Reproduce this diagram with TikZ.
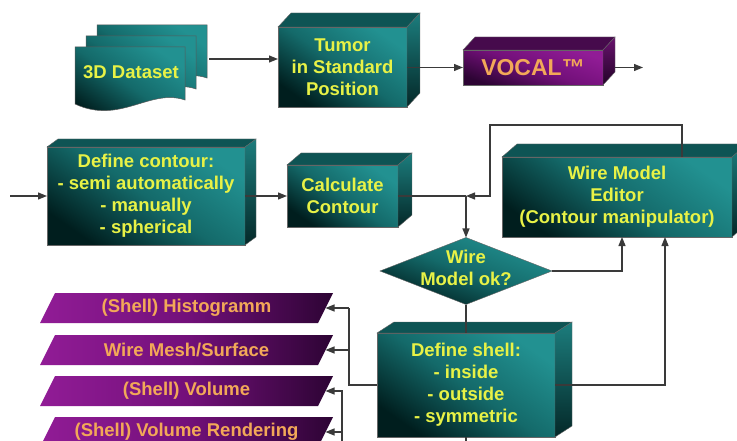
\documentclass[tikz,border=0pt]{standalone}
\usepackage{fontspec}
\setmainfont{Liberation Sans}
\usetikzlibrary{arrows.meta,shapes.geometric}
\definecolor{tealF}{RGB}{34,145,145}
\definecolor{tealM}{RGB}{20,106,106}
\definecolor{tealD}{RGB}{0,30,30}
\definecolor{tealT}{RGB}{14,84,84}
\definecolor{tealS1}{RGB}{28,125,125}
\definecolor{tealS2}{RGB}{4,40,40}
\definecolor{ytext}{RGB}{232,242,70}
\definecolor{purF}{RGB}{145,28,150}
\definecolor{purM}{RGB}{115,16,122}
\definecolor{purD}{RGB}{45,4,52}
\definecolor{purT}{RGB}{70,10,76}
\definecolor{purS1}{RGB}{105,18,110}
\definecolor{purS2}{RGB}{35,3,40}
\definecolor{otext}{RGB}{242,168,88}
\definecolor{lineC}{RGB}{58,58,58}
\newcommand\boxfont{\bfseries\fontsize{18.5}{22}\selectfont}
\newcommand\cubefaces[5]{%
  \fill[#4] (#1.north west) -- ++(#2,#3) -- ([shift={(#2,#3)}]#1.north east) -- (#1.north east) -- cycle;
  \shade[#5] (#1.north east) -- ++(#2,#3) -- ([shift={(#2,#3)}]#1.south east) -- (#1.south east) -- cycle;}
\newcommand\docsheet[2]{%
  \begin{scope}[shift={(#1,#2)}]
  \shade[docface] (75,47) -- (185,47) -- (185,100) .. controls (150,88) and (120,125) .. (75,104) -- cycle;
  \end{scope}}
\tikzset{
  conn/.style={draw=lineC, line width=1.2pt},
  arr/.style={conn, -{Triangle[length=9pt,width=7pt]}},
  tealbox/.style={rectangle, inner sep=0pt, outer sep=0pt, draw=black!60, line width=0.4pt,
    top color=tealF, bottom color=tealD, middle color=tealM, shading angle=-35,
    text=ytext, align=center, font=\boxfont},
  purbox/.style={rectangle, inner sep=0pt, outer sep=0pt, draw=black!60, line width=0.4pt,
    top color=purF, bottom color=purD, middle color=purM, shading angle=-20,
    text=otext, align=center, font=\boxfont},
  ttop/.style={fill=tealT, draw=black!60, line width=0.4pt},
  tside/.style={top color=tealS1, bottom color=tealS2, draw=black!60, line width=0.4pt},
  ptop/.style={fill=purT, draw=black!60, line width=0.4pt},
  pside/.style={top color=purS1, bottom color=purS2, draw=black!60, line width=0.4pt},
  docface/.style={top color=tealF, bottom color=tealD, middle color=tealM, shading angle=-35, draw=black!65, line width=0.5pt},
  plabel/.style={rectangle, inner sep=0pt, outer sep=0pt, minimum width=293pt, minimum height=30pt,
    text=otext, font=\boxfont,
    path picture={\shade[left color=purF, right color=purD, middle color=purM]
      (path picture bounding box.south west) -- ([xshift=15pt]path picture bounding box.north west)
      -- (path picture bounding box.north east) -- ([xshift=-15pt]path picture bounding box.south east) -- cycle;}},
  dianode/.style={diamond, inner sep=0pt, outer sep=0pt, minimum width=172pt, minimum height=67pt,
    draw=black!60, line width=0.4pt, top color=tealF, bottom color=tealD, middle color=tealM, shading angle=-20},
  txt/.style={text=ytext, align=center, font=\boxfont, inner sep=0pt}
}
\begin{document}
\begin{tikzpicture}[x=1pt,y=-1pt]
\useasboundingbox (0,0) rectangle (737,441);
\clip (0,0) rectangle (737,441);
\fill[white] (0,0) rectangle (737,441);

% 3D dataset stack
\docsheet{22}{-22}
\docsheet{11}{-11}
\docsheet{0}{0}
\node[txt] (data) at (131,72) {3D Dataset};

% boxes
\node[tealbox, minimum width=129pt, minimum height=80pt] (tumor) at (342.5,67) {Tumor\\in Standard\\Position};
\cubefaces{tumor}{13}{-14}{ttop}{tside}

\node[purbox, minimum width=140pt, minimum height=35pt, font=\bfseries\fontsize{23}{26}\selectfont] (vocal) at (533,67.5) {VOCAL™};
\cubefaces{vocal}{12}{-13}{ptop}{pside}

\node[tealbox, minimum width=198pt, minimum height=98pt] (contour) at (146,196) {Define contour:\\- semi automatically\\- manually\\- spherical};
\cubefaces{contour}{11}{-8}{ttop}{tside}

\node[tealbox, minimum width=111pt, minimum height=62pt] (calc) at (342.5,196) {Calculate\\Contour};
\cubefaces{calc}{14}{-12}{ttop}{tside}

\node[tealbox, minimum width=230pt, minimum height=80pt] (editor) at (617,197) {Wire Model\\Editor\\(Contour manipulator)};
\cubefaces{editor}{15}{-13}{ttop}{tside}

\node[dianode] (dia) at (466,271) {};
\node[txt] (diat) at (466,268) {Wire\\Model ok?};

\node[tealbox, minimum width=178pt, minimum height=104pt] (shell) at (466,385) {Define shell:\\- inside\\- outside\\- symmetric};
\cubefaces{shell}{17}{-11}{ttop}{tside}

% output parallelograms
\node[plabel] (hist) at (186.5,308) {(Shell) Histogramm};
\node[plabel] (mesh) at (186.5,350) {Wire Mesh/Surface};
\node[plabel] (vol) at (186.5,391) {(Shell) Volume};
\node[plabel] (rend) at (186.5,432) {(Shell) Volume Rendering};

% connectors
\coordinate (dsout) at (209,59);
\draw[arr] (dsout) -- (dsout -| tumor.west);
\draw[arr] (tumor.east |- vocal.west) -- (vocal.west);
\coordinate (vout) at (643,67.5);
\draw[arr] ([xshift=12pt]vocal.east) -- (vout);
\coordinate (cin) at (10,196);
\draw[arr] (cin) -- (contour.west);
\draw[arr] (contour.east) -- (calc.west);
\coordinate (junc) at (calc.east -| dia.north);
\draw[conn] (calc.east) -- (junc);
\draw[arr] (junc) -- (dia.north);
\coordinate (loopc) at (490,125);
\draw[arr] ([xshift=65pt]editor.north) |- (loopc) |- (junc);
\draw[arr] (dia.east) -| ([xshift=5pt]editor.south);
\draw[arr] (shell.east) -| ([xshift=48pt]editor.south);
\draw[conn] (dia.south) -- (shell.north);
\coordinate (b1) at (349,308);
\draw[conn] (shell.west) -| (b1);
\draw[arr] (b1) -- ([xshift=-7.5pt]hist.east);
\draw[arr] (b1 |- mesh.east) -- ([xshift=-7.5pt]mesh.east);
\coordinate (b2) at (342,452);
\draw[conn] (shell.south) |- (b2);
\draw[arr] (b2) |- ([xshift=-7.5pt]vol.east);
\draw[arr] (b2) |- ([xshift=-7.5pt]rend.east);
\end{tikzpicture}
\end{document}
